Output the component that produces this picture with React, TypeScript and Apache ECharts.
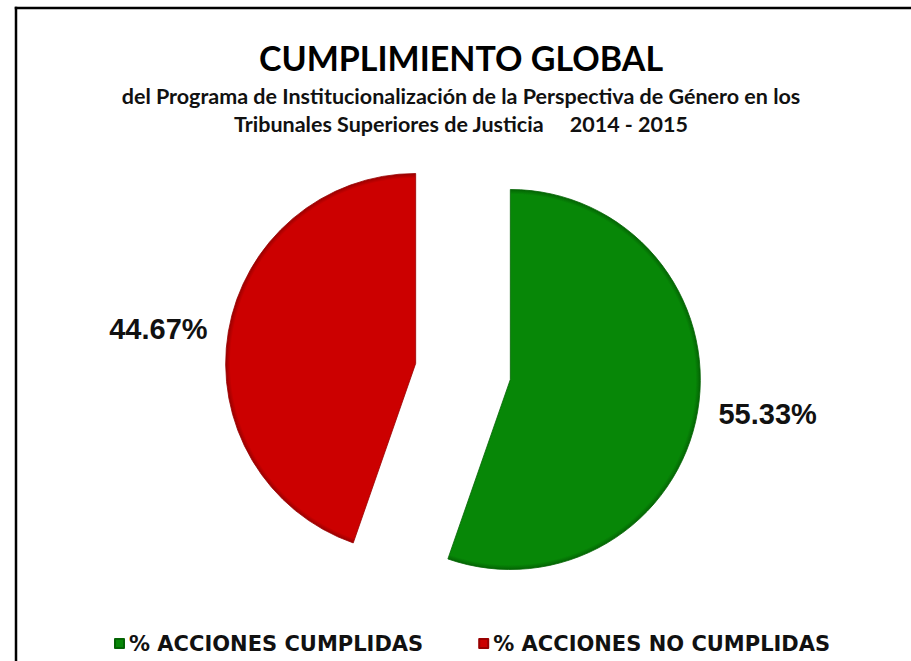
import React, { useEffect, useRef } from "react";
import * as echarts from "echarts";

const TITLE = "CUMPLIMIENTO GLOBAL";
const SUBTITLE_LINES = [
  "del Programa de Institucionalización de la Perspectiva de Género en los",
  "Tribunales Superiores de Justicia     2014 - 2015",
];
const CATEGORIES = ["% ACCIONES CUMPLIDAS", "% ACCIONES NO CUMPLIDAS"];
const VALUES = [55.33, 44.67];
const COLORS = ["#078707", "#cc0000"];
const RIMS = ["#046404", "#990000"];

const CX = 463;
const CY = 371.5;
const R = 190;
const TITLE_FONT = "Lato, 'Open Sans', sans-serif";

export default function App() {
  const ref = useRef<HTMLDivElement>(null);
  useEffect(() => {
    if (!ref.current) return;
    const chart = echarts.init(ref.current, undefined, { renderer: "svg" });
    const data = CATEGORIES.map((name, i) => ({
      name,
      value: VALUES[i],
      selected: true,
      itemStyle: {
        color: {
          type: "radial",
          x: CX,
          y: CY,
          r: R,
          global: true,
          colorStops: [
            { offset: 0, color: COLORS[i] },
            { offset: 0.975, color: COLORS[i] },
            { offset: 1, color: RIMS[i] },
          ],
        },
        borderColor: RIMS[i],
        borderWidth: 0.8,
      },
    }));
    chart.setOption({
      animation: false,
      backgroundColor: "#ffffff",
      graphic: [
        {
          type: "line",
          shape: { x1: 14.75, y1: 8, x2: 911, y2: 8 },
          style: { stroke: "#000000", lineWidth: 2.5 },
          silent: true,
        },
        {
          type: "line",
          shape: { x1: 16, y1: 6.75, x2: 16, y2: 661 },
          style: { stroke: "#000000", lineWidth: 2.5 },
          silent: true,
        },
        {
          type: "text",
          x: 461,
          y: 57,
          style: {
            text: TITLE,
            font: `bold 34px ${TITLE_FONT}`,
            fill: "#000000",
            textAlign: "center",
            textVerticalAlign: "middle",
          },
        },
        ...SUBTITLE_LINES.map((t, i) => ({
          type: "text",
          x: 461,
          y: 96 + i * 28,
          style: {
            text: t,
            font: `bold 21.5px ${TITLE_FONT}`,
            fill: "#111111",
            textAlign: "center",
            textVerticalAlign: "middle",
          },
        })),
      ],
      legend: {
        data: CATEGORIES.map((name, i) => ({
          name,
          itemStyle: { color: COLORS[i] },
        })),
        left: 109,
        top: 628,
        orient: "horizontal",
        icon: "rect",
        itemWidth: 9,
        itemHeight: 9,
        itemGap: 55,
        selectedMode: false,
        textStyle: {
          fontFamily: "'DejaVu Sans', sans-serif",
          fontWeight: "bold",
          fontSize: 21,
          color: "#111111",
        },
      },
      series: [
        {
          type: "pie",
          center: [CX, CY],
          radius: R,
          startAngle: 90,
          clockwise: true,
          selectedMode: "multiple",
          selectedOffset: 48,
          avoidLabelOverlap: false,
          emphasis: { disabled: true },
          label: {
            show: true,
            position: "outside",
            distanceToLabelLine: 5,
            formatter: (p: any) => `${Number(p.value).toFixed(2)}%`,
            fontFamily: "'Liberation Sans', Arial, sans-serif",
            fontWeight: "bold",
            fontSize: 29,
            color: "#111111",
          },
          labelLine: { show: false, length: 16, length2: 0 },
          data,
        },
      ],
    });
    return () => chart.dispose();
  }, []);
  return (
    <div
      ref={ref}
      style={{
        position: "fixed",
        left: 0,
        top: 0,
        width: 911,
        height: 661,
        background: "#ffffff",
      }}
    />
  );
}
